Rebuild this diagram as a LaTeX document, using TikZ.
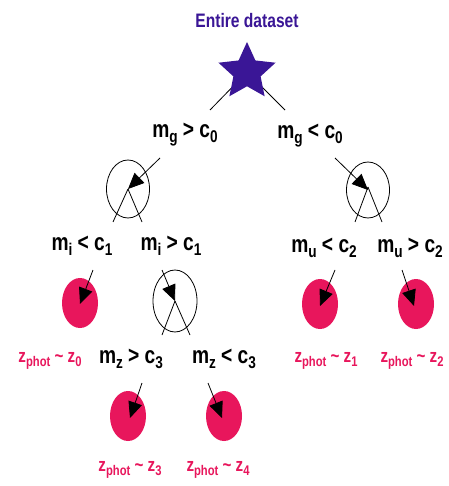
\documentclass[tikz,border=0pt]{standalone}
\usepackage{fontspec}
\setmainfont[FakeStretch=0.8]{Liberation Sans}
\usetikzlibrary{shapes.geometric,arrows.meta,backgrounds}
\definecolor{indigo}{RGB}{58,22,150}
\definecolor{rose}{RGB}{232,22,92}
\newcommand\lsub[1]{\raisebox{-5pt}{\fontsize{17}{17}\selectfont #1}}
\newcommand\zsub[1]{\raisebox{-4pt}{\fontsize{14}{14}\selectfont #1}}
\begin{document}
\begin{tikzpicture}[x=1pt,y=-1pt,
  lab/.style={font=\fontsize{24}{28}\selectfont\bfseries, inner sep=0pt, anchor=base},
  zlab/.style={font=\fontsize{19}{22}\selectfont\bfseries, text=rose, inner sep=0pt, anchor=base},
  split/.style={ellipse, draw=black, line width=0.8pt, inner sep=0pt},
  leaf/.style={ellipse, fill=rose, inner sep=0pt, minimum width=36pt, minimum height=50pt},
  arr/.style={line width=0.8pt, -{Triangle[length=16pt,width=14pt]}},
  leg/.style={line width=0.8pt}]
\useasboundingbox (0,0) rectangle (448,486);
% title and root
\node[font=\fontsize{19.5}{22}\selectfont\bfseries, text=indigo, inner sep=0pt, anchor=base] (title) at (247,28) {Entire dataset};
\node[star, star points=5, star point ratio=2.1, fill=indigo, inner sep=0pt, minimum size=60pt] (root) at (247,72) {};
% labels
\node[lab] (mg1) at (185,138) {m\lsub{g} > c\lsub{0}};
\node[lab] (mg2) at (310,139) {m\lsub{g} < c\lsub{0}};
\node[lab] (mi1) at (82,250) {m\lsub{i} < c\lsub{1}};
\node[lab] (mi2) at (171,250) {m\lsub{i} > c\lsub{1}};
\node[lab] (mu1) at (324,252) {m\lsub{u} < c\lsub{2}};
\node[lab] (mu2) at (410,252) {m\lsub{u} > c\lsub{2}};
\node[lab] (mz1) at (131,363) {m\lsub{z} > c\lsub{3}};
\node[lab] (mz2) at (224,363) {m\lsub{z} < c\lsub{3}};
\node[zlab] (z0) at (50,362) {z\zsub{phot} \textasciitilde{} z\zsub{0}};
\node[zlab] (z1) at (326,362) {z\zsub{phot} \textasciitilde{} z\zsub{1}};
\node[zlab] (z2) at (412,362) {z\zsub{phot} \textasciitilde{} z\zsub{2}};
\node[zlab] (z3) at (130,471) {z\zsub{phot} \textasciitilde{} z\zsub{3}};
\node[zlab] (z4) at (218,471) {z\zsub{phot} \textasciitilde{} z\zsub{4}};
% split ellipses
\node[split, minimum width=43pt, minimum height=58pt] (d1) at (128,189) {};
\node[split, minimum width=43pt, minimum height=56pt] (d2) at (368,190) {};
\node[split, minimum width=44pt, minimum height=62pt] (d3) at (175,301) {};
% leaves
\node[leaf] (l0) at (80,303) {};
\node[leaf] (l1) at (320,304) {};
\node[leaf] (l2) at (416,304) {};
\node[leaf] (l3) at (128,416) {};
\node[leaf] (l4) at (224,416) {};
% free ends
\coordinate (s1) at (210,110);
\coordinate (s2) at (285,110);
\coordinate (a1) at (160,158);
\coordinate (a2) at (335,158);
\coordinate (a3) at (162,270);
\coordinate (b0) at (93,270);
\coordinate (b1) at (335,270);
\coordinate (b2) at (402,270);
\coordinate (b3) at (142,383);
\coordinate (b4) at (208,383);
\coordinate (e1) at (113,222);
\coordinate (e2) at (142,222);
\coordinate (e3) at (355,222);
\coordinate (e4) at (382,222);
\coordinate (e5) at (162,335);
\coordinate (e6) at (190,335);
\begin{scope}[on background layer]
  \fill[white] (0,0) rectangle (448,486);
  \draw[leg] (s1) -- (root.center);
  \draw[leg] (s2) -- (root.center);
\end{scope}
% arrows into nodes
\draw[arr] (a1) -- (d1.center);
\draw[arr] (a2) -- (d2.center);
\draw[arr] (a3) -- (d3.center);
\draw[arr] (b0) -- ([yshift=-1pt]l0.center);
\draw[arr] (b1) -- ([yshift=-2pt]l1.center);
\draw[arr] (b2) -- ([xshift=-2pt,yshift=-2pt]l2.center);
\draw[arr] (b3) -- ([xshift=2pt,yshift=-2pt]l3.center);
\draw[arr] (b4) -- ([xshift=-2pt,yshift=-2pt]l4.center);
% legs out of split nodes
\draw[leg] (d1.center) -- (e1);
\draw[leg] (d1.center) -- (e2);
\draw[leg] ([yshift=3pt]d2.center) -- (e3);
\draw[leg] ([yshift=3pt]d2.center) -- (e4);
\draw[leg] (d3.center) -- (e5);
\draw[leg] (d3.center) -- (e6);
\end{tikzpicture}
\end{document}
